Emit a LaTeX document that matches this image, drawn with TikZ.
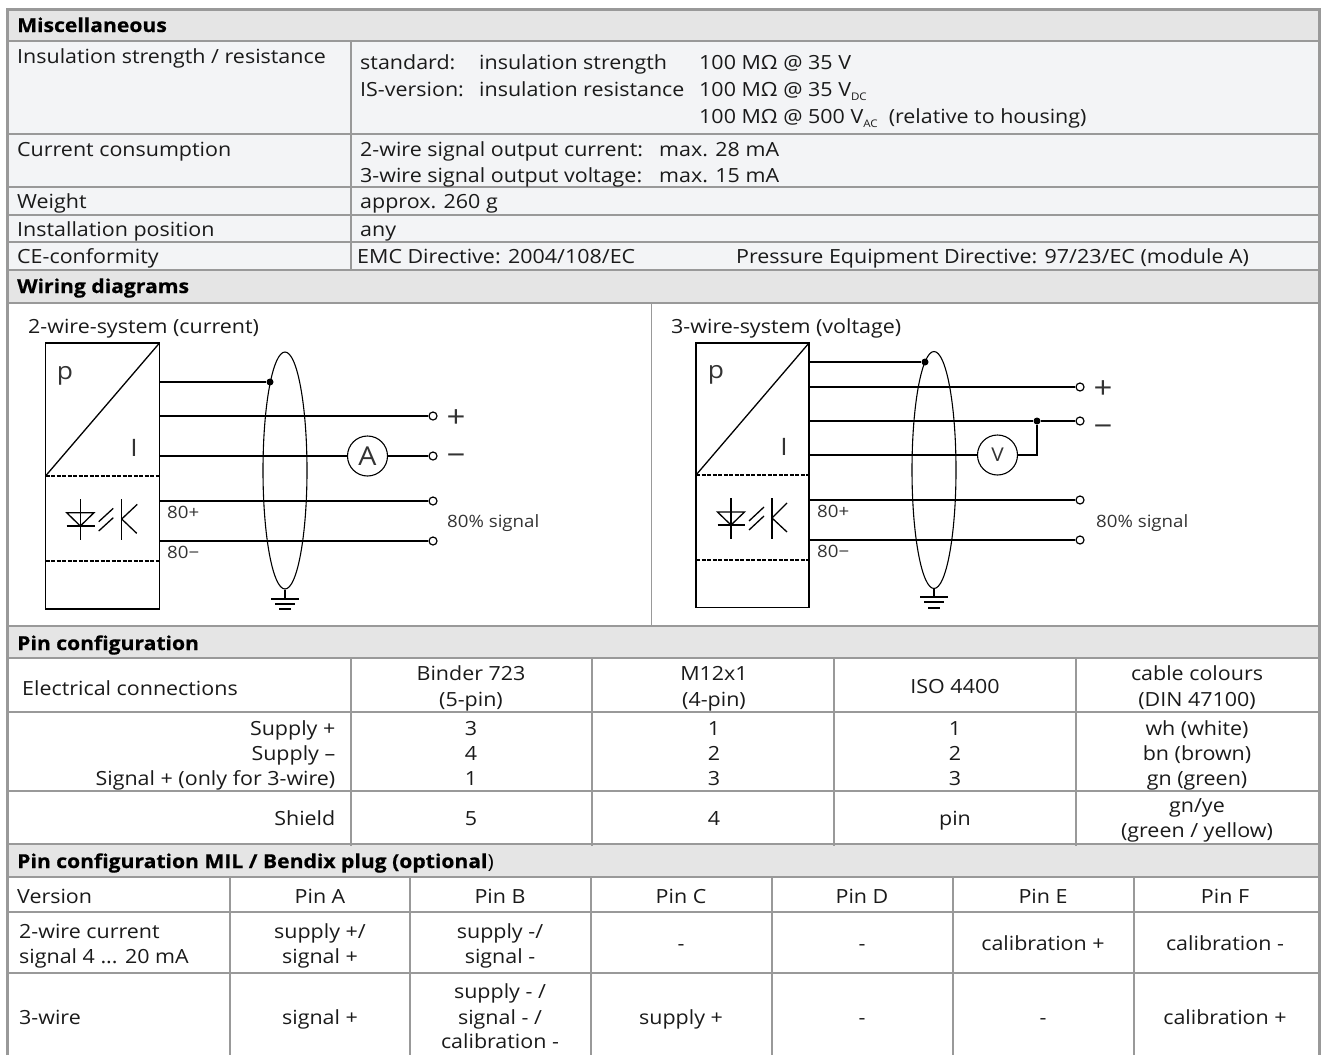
\documentclass[tikz,border=0pt]{standalone}
\usepackage{fontspec}
\setmainfont[FakeStretch=1.1]{Open Sans}
\newfontfamily\headfont[FakeStretch=1.1,BoldFeatures={FakeBold=0.6}]{Open Sans}
\usetikzlibrary{shapes.geometric}
\definecolor{rulegray}{HTML}{999999}
\definecolor{headfill}{HTML}{E5E5E5}
\definecolor{bodyfill}{HTML}{F3F4F6}
\definecolor{inktext}{HTML}{1A1A1A}
\definecolor{symtext}{HTML}{333333}
\tikzset{
  txt/.style={anchor=base west,inner sep=0pt,text=inktext,font=\fontsize{19.5}{22}\selectfont},
  ctr/.style={txt,anchor=base},
  rgt/.style={txt,anchor=base east},
  head/.style={anchor=base west,inner sep=0pt,text=black,font=\fontsize{19.2}{22}\selectfont\headfont\bfseries},
  hrule/.style={rulegray,line width=2.2pt},
  vrule/.style={rulegray,line width=1.4pt},
  wire/.style={black,line width=1.3pt},
  thin wire/.style={black,line width=1.3pt},
  divide/.style={black,line width=1.1pt,dash pattern=on 4pt off 1.5pt},
  term/.style={circle,draw=black,fill=white,line width=1.2pt,minimum size=8pt,inner sep=0pt},
  jointdot/.style={circle,fill=black,minimum size=7pt,inner sep=0pt},
  meter/.style={circle,draw=black,fill=white,line width=1.1pt,minimum size=40pt,inner sep=0pt,text=symtext},
  shieldring/.style={ellipse,draw=black,line width=1.1pt,minimum width=44pt,minimum height=237pt,inner sep=0pt},
  sym/.style={anchor=base,inner sep=0pt,text=symtext,font=\fontsize{24}{25}\selectfont},
  pol/.style={inner sep=0pt,text=symtext,font=\fontsize{30}{30}\selectfont},
  small/.style={anchor=base west,inner sep=0pt,text=symtext,font=\fontsize{17}{18}\selectfont}
}
\newcommand{\lowtag}[1]{\raisebox{-4pt}{\fontsize{10.5}{10}\selectfont #1}}
\begin{document}
\begin{tikzpicture}[x=1pt,y=-1pt]
\useasboundingbox (0,0) rectangle (1321,1055);

\fill [bodyfill] (7,41) rectangle (1319,270);
\fill [headfill] (7,9) rectangle (1319,41);
\fill [headfill] (7,270) rectangle (1319,303);
\fill [headfill] (7,626) rectangle (1319,658);
\fill [headfill] (7,844) rectangle (1319,877);

\draw [vrule] (351,41) -- (351,271);
\draw [vrule] (651.5,303) -- (651.5,626);
\draw [vrule] (351,658) -- (351,846);
\draw [vrule] (592,658) -- (592,846);
\draw [vrule] (834,658) -- (834,846);
\draw [vrule] (1076,658) -- (1076,846);
\draw [vrule] (230,877) -- (230,1055);
\draw [vrule] (410,877) -- (410,1055);
\draw [vrule] (591,877) -- (591,1055);
\draw [vrule] (772,877) -- (772,1055);
\draw [vrule] (953,877) -- (953,1055);
\draw [vrule] (1134,877) -- (1134,1055);

\draw [hrule] (7,41) -- (1319,41);
\draw [hrule] (7,134) -- (1319,134);
\draw [hrule] (7,187) -- (1319,187);
\draw [hrule] (7,215) -- (1319,215);
\draw [vrule] (7,242) -- (1319,242);
\draw [hrule] (7,270) -- (1319,270);
\draw [hrule] (7,303) -- (1319,303);
\draw [hrule] (7,626) -- (1319,626);
\draw [hrule] (7,658) -- (1319,658);
\draw [hrule] (7,712) -- (1319,712);
\draw [hrule] (7,791) -- (1319,791);
\draw [hrule] (7,844) -- (1319,844);
\draw [hrule] (7,877) -- (1319,877);
\draw [hrule] (7,912) -- (1319,912);
\draw [hrule] (7,973) -- (1319,973);
\draw [rulegray,line width=3pt] (7,1055) -- (7,9) -- (1319,9) -- (1319,1055);

\node [head] (miscHead) at (17,32) {Miscellaneous};
\node [txt] (insLabel) at (17,63) {Insulation strength / resistance};
\node [txt] (stdLabel) at (360,69) {standard:};
\node [txt] (stdKind) at (479,69) {insulation strength};
\node [txt] (stdValue) at (699,69) {100 MΩ @ 35 V};
\node [txt] (isLabel) at (360,96) {IS-version:};
\node [txt] (isKind) at (479,96) {insulation resistance};
\node [txt] (isValue) at (699,96) {100 MΩ @ 35 V\lowtag{DC}};
\node [txt] (isValueAc) at (699,123) {100 MΩ @ 500 V\lowtag{AC}\ \ (relative to housing)};
\node [txt] (currLabel) at (17,156) {Current consumption};
\node [txt] (currTwo) at (360,156) {2-wire signal output current:};
\node [txt] (currTwoMax) at (659,156) {max. 28 mA};
\node [txt] (currThree) at (360,182) {3-wire signal output voltage:};
\node [txt] (currThreeMax) at (659,182) {max. 15 mA};
\node [txt] (weightLabel) at (17,208) {Weight};
\node [txt] (weightValue) at (360,208) {approx. 260 g};
\node [txt] (posLabel) at (17,236) {Installation position};
\node [txt] (posValue) at (360,236) {any};
\node [txt] (ceLabel) at (17,263) {CE-conformity};
\node [txt] (ceEmc) at (357,263) {EMC Directive: 2004/108/EC};
\node [txt] (cePressure) at (736,263) {Pressure Equipment Directive: 97/23/EC (module A)};
\node [head] (wiringHead) at (17,293) {Wiring diagrams};

\node [txt] (leftTitle) at (28,333) {2-wire-system (current)};
\draw [wire] (45.5,343) rectangle (159.5,609);
\draw [wire] (159.5,343) -- (45.5,476);
\draw [divide] (45.5,476) -- (159.5,476);
\draw [divide] (45.5,561) -- (159.5,561);
\node [sym] (leftP) at (65,379) {p};
\node [sym] (leftI) at (134,456) {I};

\coordinate (leftOne) at (159.5,382);
\coordinate (leftTwo) at (159.5,416);
\coordinate (leftThree) at (159.5,456);
\coordinate (leftFour) at (159.5,501);
\coordinate (leftFive) at (159.5,541);
\node [jointdot] (leftJoint) at (270,382) {};
\node [term] (leftPlus) at (433,416) {};
\node [term] (leftMinus) at (433,456) {};
\node [term] (leftSigA) at (433,501) {};
\node [term] (leftSigB) at (433,541) {};
\node [meter,font=\fontsize{26}{26}\selectfont] (ammeter) at (367.5,456) {A};
\draw [wire] (leftOne) -- (leftJoint);
\draw [wire] (leftTwo) -- (leftPlus);
\draw [wire] (leftThree) -- (ammeter);
\draw [wire] (ammeter) -- (leftMinus);
\draw [wire] (leftFour) -- (leftSigA);
\draw [wire] (leftFive) -- (leftSigB);
\node [shieldring] (leftRing) at (285,470.5) {};
\coordinate (leftGnd) at (285,599);
\draw [thin wire] (leftRing.south) -- (leftGnd);
\draw [wire] (271,599) -- (299,599);
\draw [wire] (275,604) -- (295,604);
\draw [wire] (279,609) -- (291,609);
\node [pol] (leftPlusSign) at (456,419) {+};
\node [pol] (leftMinusSign) at (456,460) {−};
\node [small] (leftEightyP) at (167,518) {80+};
\node [small] (leftEightyM) at (167,558) {80−};
\node [small] (leftSigText) at (447,527) {80\% signal};

\draw [thin wire] (80.3,499) -- (80.3,540);
\draw [thin wire] (66.7,512.7) -- (94,512.7) -- (80.3,526) -- cycle;
\draw [thin wire] (66.7,526) -- (94.6,526);
\draw [thin wire] (98.7,521.7) -- (113.3,508.3);
\draw [thin wire] (98.7,531) -- (113.3,517.7);
\draw [thin wire] (121.7,499) -- (121.7,540);
\draw [thin wire] (137.3,504.3) -- (121.7,519) -- (136.7,533.3);

\node [txt] (rightTitle) at (671,333) {3-wire-system (voltage)};
\draw [wire] (696,343) rectangle (809,607.7);
\draw [wire] (809,343) -- (696,475);
\draw [divide] (696,475) -- (809,475);
\draw [divide] (696,560) -- (809,560);
\node [sym] (rightP) at (716,378) {p};
\node [sym] (rightI) at (784,455) {I};

\coordinate (rightOne) at (809,362);
\coordinate (rightTwo) at (809,387);
\coordinate (rightThree) at (809,421);
\coordinate (rightFour) at (809,455);
\coordinate (rightFive) at (809,500);
\coordinate (rightSix) at (809,540);
\node [jointdot] (rightJoint) at (925,362) {};
\node [jointdot] (rightTap) at (1037,421) {};
\node [term] (rightPlus) at (1080,387) {};
\node [term] (rightMinus) at (1080,421) {};
\node [term] (rightSigA) at (1080,500) {};
\node [term] (rightSigB) at (1080,540) {};
\node [meter,font=\fontsize{19}{19}\selectfont] (voltmeter) at (997.5,455) {V};
\draw [wire] (rightOne) -- (rightJoint);
\draw [wire] (rightTwo) -- (rightPlus);
\draw [wire] (rightThree) -- (rightTap);
\draw [wire] (rightTap) -- (rightMinus);
\draw [wire] (rightFour) -- (voltmeter);
\draw [wire] (voltmeter) -| (rightTap);
\draw [wire] (rightFive) -- (rightSigA);
\draw [wire] (rightSix) -- (rightSigB);
\node [shieldring] (rightRing) at (934,470) {};
\coordinate (rightGnd) at (934,597);
\draw [thin wire] (rightRing.south) -- (rightGnd);
\draw [wire] (920,597) -- (948,597);
\draw [wire] (924,602) -- (944,602);
\draw [wire] (928,608) -- (940,608);
\node [pol] (rightPlusSign) at (1103,390) {+};
\node [pol] (rightMinusSign) at (1103,431) {−};
\node [small] (rightEightyP) at (817,517) {80+};
\node [small] (rightEightyM) at (817,557) {80−};
\node [small] (rightSigText) at (1096,527) {80\% signal};

\draw [thin wire] (731,498) -- (731,539);
\draw [thin wire] (717.5,512) -- (744.5,512) -- (731,525) -- cycle;
\draw [thin wire] (717.5,525) -- (745,525);
\draw [thin wire] (749,521) -- (764,507);
\draw [thin wire] (749,530) -- (764,516);
\draw [thin wire] (772,498) -- (772,539);
\draw [thin wire] (787,503) -- (772,518) -- (787,532);

\node [head] (pinHead) at (17,650) {Pin configuration};
\node [txt] (elecLabel) at (22,695) {Electrical connections};
\node [ctr] (binderA) at (471,680) {Binder 723};
\node [ctr] (binderB) at (471,706) {(5-pin)};
\node [ctr] (mTwelveA) at (714,680) {M12x1};
\node [ctr] (mTwelveB) at (714,706) {(4-pin)};
\node [ctr] (isoHead) at (955,693) {ISO 4400};
\node [ctr] (cableA) at (1197,680) {cable colours};
\node [ctr] (cableB) at (1197,706) {(DIN 47100)};

\node [rgt] (supplyPlus) at (335.5,735) {Supply +};
\node [rgt] (supplyMinus) at (335.5,760) {Supply –};
\node [rgt] (signalPlus) at (335.5,785) {Signal + (only for 3-wire)};
\node [ctr] (binderOne) at (471,735) {3};
\node [ctr] (binderTwo) at (471,760) {4};
\node [ctr] (binderThree) at (471,785) {1};
\node [ctr] (mOne) at (714,735) {1};
\node [ctr] (mTwo) at (714,760) {2};
\node [ctr] (mThree) at (714,785) {3};
\node [ctr] (isoOne) at (955,735) {1};
\node [ctr] (isoTwo) at (955,760) {2};
\node [ctr] (isoThree) at (955,785) {3};
\node [ctr] (cableOne) at (1197,735) {wh (white)};
\node [ctr] (cableTwo) at (1197,760) {bn (brown)};
\node [ctr] (cableThree) at (1197,785) {gn (green)};
\node [rgt] (shieldLabel) at (335.5,825) {Shield};
\node [ctr] (binderShield) at (471,825) {5};
\node [ctr] (mShield) at (714,825) {4};
\node [ctr] (isoShield) at (955,825) {pin};
\node [ctr] (cableShieldA) at (1197,812) {gn/ye};
\node [ctr] (cableShieldB) at (1197,837) {(green / yellow)};

\node [head] (milHead) at (17,868) {Pin configuration MIL / Bendix plug (optional\textmd{)}};
\node [txt] (versionHead) at (17,903) {Version};
\node [ctr] (pinA) at (320,903) {Pin A};
\node [ctr] (pinB) at (500,903) {Pin B};
\node [ctr] (pinC) at (681,903) {Pin C};
\node [ctr] (pinD) at (862,903) {Pin D};
\node [ctr] (pinE) at (1043,903) {Pin E};
\node [ctr] (pinF) at (1225,903) {Pin F};

\node [txt] (twoWireA) at (19,938) {2-wire current};
\node [txt] (twoWireB) at (19,963) {signal 4 ... 20 mA};
\node [ctr] (twoAa) at (320,938) {supply +/};
\node [ctr] (twoAb) at (320,963) {signal +};
\node [ctr] (twoBa) at (500,938) {supply -/};
\node [ctr] (twoBb) at (500,963) {signal -};
\node [ctr] (twoC) at (681,950) {-};
\node [ctr] (twoD) at (862,950) {-};
\node [ctr] (twoE) at (1043,950) {calibration +};
\node [ctr] (twoF) at (1225,950) {calibration -};

\node [txt] (threeWire) at (19,1024) {3-wire};
\node [ctr] (threeA) at (320,1024) {signal +};
\node [ctr] (threeBa) at (500,998) {supply - /};
\node [ctr] (threeBb) at (500,1024) {signal - /};
\node [ctr] (threeBc) at (500,1048) {calibration -};
\node [ctr] (threeC) at (681,1024) {supply +};
\node [ctr] (threeD) at (862,1024) {-};
\node [ctr] (threeE) at (1043,1024) {-};
\node [ctr] (threeF) at (1225,1024) {calibration +};
\end{tikzpicture}
\end{document}
